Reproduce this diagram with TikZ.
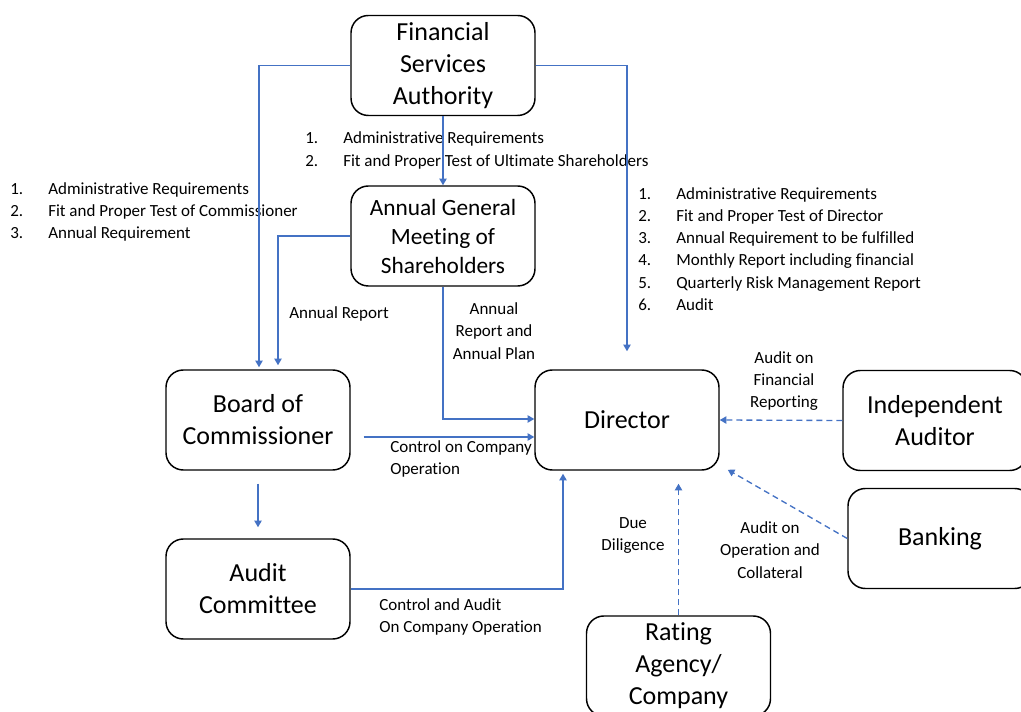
\documentclass[tikz,border=0pt]{standalone}
\usepackage{fontspec}
\setmainfont[Ligatures=NoCommon]{Carlito}
\usetikzlibrary{arrows.meta,calc}
\definecolor{linkblue}{HTML}{4472C4}
\newcommand{\itm}[2]{\makebox[28.5pt][l]{#1}#2}

\begin{document}
\begin{tikzpicture}[x=0.75pt,y=-0.75pt,
    box/.style = {draw, line width=1.1pt, rounded corners=13pt, minimum width=138pt,
                  minimum height=75pt, align=center, inner sep=0pt,
                  font=\fontsize{19.5}{24}\selectfont},
    note/.style = {align=left, inner sep=0pt, anchor=west, font=\fontsize{12.75}{16.7}\selectfont},
    lbl/.style = {align=center, inner sep=0pt, font=\fontsize{12.75}{16.7}\selectfont},
    link/.style = {draw=linkblue, line width=1pt, -{Triangle[width=5.5pt,length=5pt]}},
    dlink/.style = {link, dash pattern=on 4.5pt off 3pt}]
\useasboundingbox (0,0) rectangle (1021,712);
\node[box] (fsa) at (443,65.5) {Financial\\Services\\Authority};
\node[box, font=\fontsize{17.5}{21.75}\selectfont] (agm) at (443,236) {Annual General\\Meeting of\\Shareholders};
\node[box] (board) at (258,420) {Board of\\Commissioner};
\node[box] (audit) at (258,589) {Audit\\Committee};
\node[box] (dir) at (627,420) {Director};
\node[box] (indep) at (935,420.5) {Independent\\Auditor};
\node[box] (bank) at (940,538.5) {Banking};
\node[box] (rating) at (678.5,666) {Rating\\Agency/\\Company};

\node[note] (fsanote) at (305,150.5) {\itm{1.}{Administrative Requirements}\\
    \itm{2.}{Fit and Proper Test of Ultimate Shareholders}};
\node[note] (boardnote) at (10,212) {\itm{1.}{Administrative Requirements}\\
    \itm{2.}{Fit and Proper Test of Commissioner}\\
    \itm{3.}{Annual Requirement}};
\node[note] (dirnote) at (638,249) {\itm{1.}{Administrative Requirements}\\
    \itm{2.}{Fit and Proper Test of Director}\\
    \itm{3.}{Annual Requirement to be fulfilled}\\
    \itm{4.}{Monthly Report including financial}\\
    \itm{5.}{Quarterly Risk Management Report}\\
    \itm{6.}{Audit}};

\draw[link] (fsa.west) -| ($(board.north)+(1,-2)$);
\draw[link] (fsa.east) -| ($(dir.north)+(0,-18)$);
\draw[link] (fsa.south) -- (agm.north);
\draw[link] (agm.west) -| ($(board.north)+(20,-4)$);
\draw[link] (agm.south) |- ($(dir.west)+(0,-1)$);
\draw[link] ($(board.east)+(13,17)$) -- ($(dir.west)+(0,17)$);
\draw[link] ($(board.south)+(0,13)$) -- ($(audit.north)+(0,-11)$);
\draw[link] (audit.east) -| ($(dir.south)+(-64,3)$);
\draw[dlink] (indep.west) -- (dir.east);
\draw[dlink] (bank.west) -- ($(dir.south east)+(8,-1)$);
\draw[dlink] (rating.north) -- ($(dir.south)+(51.5,13)$);

\node[lbl] (arlbl) at (339,314) {Annual Report};
\node[lbl] (aplbl) at (494,331) {Annual\\Report and\\Annual Plan};
\node[note] (ctllbl) at (390,459) {Control on Company\\Operation};
\node[note] (cadlbl) at (379,617) {Control and Audit\\On Company Operation};
\node[lbl] (finlbl) at (784,381) {Audit on\\Financial\\Reporting};
\node[lbl] (opslbl) at (770,550) {Audit on\\Operation and\\Collateral};
\node[lbl] (duelbl) at (633,535.5) {Due\\Diligence};
\end{tikzpicture}
\end{document}
